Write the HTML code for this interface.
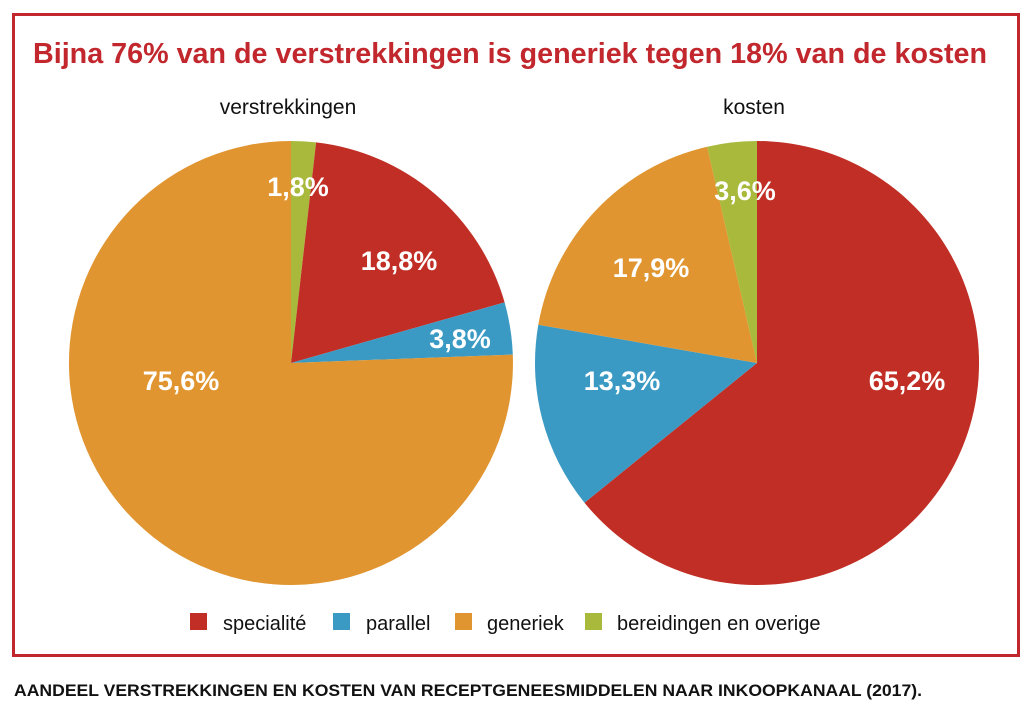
<!DOCTYPE html>
<html><head><meta charset="utf-8"><style>
body{margin:0;background:#fff;width:1030px;height:712px;overflow:hidden;font-family:"Liberation Sans Narrow","Liberation Sans",sans-serif}
</style></head><body>
<svg width="1030" height="712" viewBox="0 0 1030 712" xmlns="http://www.w3.org/2000/svg" font-family="'Liberation Sans Narrow','Liberation Sans',sans-serif">
<rect x="13.5" y="14.5" width="1005" height="641" fill="none" stroke="#c1272d" stroke-width="3"/>
<text x="510" y="63" text-anchor="middle" font-size="29" font-weight="bold" fill="#c1272d" textLength="954" lengthAdjust="spacingAndGlyphs">Bijna 76% van de verstrekkingen is generiek tegen 18% van de kosten</text>
<text x="288" y="114" text-anchor="middle" font-size="21" fill="#111">verstrekkingen</text>
<text x="754" y="114" text-anchor="middle" font-size="21" fill="#111">kosten</text>
<g>
<path d="M291,363 L291,141 A222,222 0 0 1 316.1,142.4 Z" fill="#a9b93c"/>
<path d="M291,363 L316.1,142.4 A222,222 0 0 1 504.6,302.4 Z" fill="#c12e25"/>
<path d="M291,363 L504.6,302.4 A222,222 0 0 1 512.8,354.6 Z" fill="#3b9ac4"/>
<path d="M291,363 L512.8,354.6 A222,222 0 1 1 291,141 Z" fill="#e09530"/>
</g>
<g>
<path d="M757,363 L757,141 A222,222 0 1 1 584.5,502.7 Z" fill="#c12e25"/>
<path d="M757,363 L584.5,502.7 A222,222 0 0 1 538.3,324.8 Z" fill="#3b9ac4"/>
<path d="M757,363 L538.3,324.8 A222,222 0 0 1 707.2,146.7 Z" fill="#e09530"/>
<path d="M757,363 L707.2,146.7 A222,222 0 0 1 757,141 Z" fill="#a9b93c"/>
</g>
<g fill="#fff" font-size="27" font-weight="bold" text-anchor="middle">
<text x="298" y="196">1,8%</text>
<text x="399" y="270">18,8%</text>
<text x="460" y="348">3,8%</text>
<text x="181" y="390">75,6%</text>
<text x="745" y="200">3,6%</text>
<text x="651" y="277">17,9%</text>
<text x="622" y="390">13,3%</text>
<text x="907" y="390">65,2%</text>
</g>
<g font-size="20" fill="#111">
<rect x="190" y="613" width="17" height="17" fill="#c12e25"/><text x="223" y="630">specialité</text>
<rect x="333" y="613" width="17" height="17" fill="#3b9ac4"/><text x="366" y="630">parallel</text>
<rect x="455" y="613" width="17" height="17" fill="#e09530"/><text x="487" y="630">generiek</text>
<rect x="585" y="613" width="17" height="17" fill="#a9b93c"/><text x="617" y="630">bereidingen en overige</text>
</g>
<text x="14" y="696" font-size="17" font-weight="bold" fill="#111" textLength="908" lengthAdjust="spacingAndGlyphs">AANDEEL VERSTREKKINGEN EN KOSTEN VAN RECEPTGENEESMIDDELEN NAAR INKOOPKANAAL (2017).</text>
</svg>
</body></html>
